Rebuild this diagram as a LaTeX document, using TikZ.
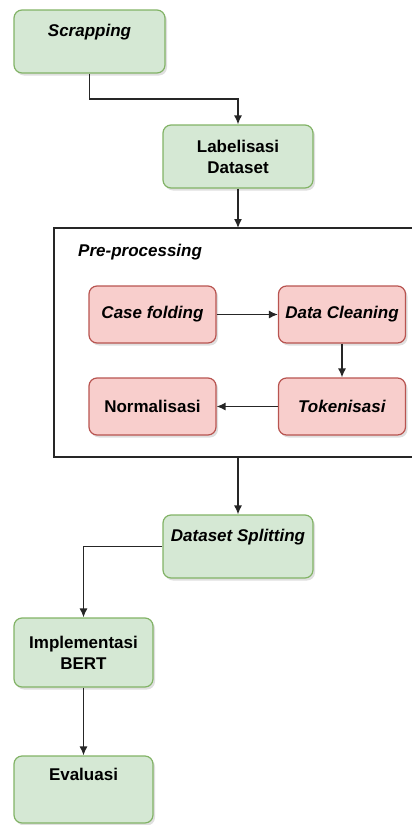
\documentclass[tikz,border=0pt]{standalone}
\usepackage{fontspec}
\setmainfont{Liberation Sans}
\usepackage{xcolor}
\usepackage{tikz}
\usetikzlibrary{positioning,shapes,shadows,arrows,arrows.meta}

\definecolor{greenfill}{HTML}{D5E8D4}
\definecolor{greenline}{HTML}{82B366}
\definecolor{redfill}{HTML}{F8CECC}
\definecolor{redline}{HTML}{B85450}

\begin{document}
\begin{tikzpicture}[x=1pt, y=-1pt,
    every node/.style={font=\fontsize{17}{21}\selectfont\bfseries, align=center, inner sep=0pt},
    greenbox/.style={draw=greenline, fill=greenfill, line width=1.2pt, rounded corners=8pt,
        drop shadow={shadow xshift=2pt, shadow yshift=-2.5pt, opacity=0.25}},
    redbox/.style={draw=redline, fill=redfill, line width=1.2pt, rounded corners=8pt,
        minimum width=127pt, minimum height=57pt,
        drop shadow={shadow xshift=2pt, shadow yshift=-2.5pt, opacity=0.25}},
    flow/.style={draw=black!85, line width=1.3pt, -{Latex[length=9pt,width=8pt]}}]
    \useasboundingbox (0,0) rectangle (412,825);

    % main steps
    \node[greenbox, minimum width=151pt, minimum height=63pt] (scrap) at (89.5,41.5) {\textit{Scrapping}\\[2pt]~};
    \node[greenbox, minimum width=150pt, minimum height=63pt] (label) at (238,156.5) {Labelisasi\\Dataset};

    % pre-processing group
    \draw[draw=black!85, line width=1.3pt] (430,228) -- (54,228) -- (54,457) -- (430,457);
    \coordinate (pretop) at (238,228);
    \coordinate (prebot) at (238,457);
    \node[anchor=west] (pretitle) at (78,252) {\textit{Pre-processing}};
    \node[redbox] (fold) at (152.5,314.5) {\textit{Case folding}};
    \node[redbox] (clean) at (342,314.5) {\textit{Data Cleaning}};
    \node[redbox] (token) at (342,406.5) {\textit{Tokenisasi}};
    \node[redbox] (norm) at (152.5,406.5) {Normalisasi};

    \node[greenbox, minimum width=150pt, minimum height=63pt] (split) at (238,546.5) {\textit{Dataset Splitting}\\[2pt]~};
    \node[greenbox, minimum width=139pt, minimum height=69pt] (bert) at (83.5,652.5) {Implementasi\\BERT};
    \node[greenbox, minimum width=139pt, minimum height=67pt] (eval) at (83.5,789.5) {Evaluasi\\[9pt]~};

    % connectors
    \draw[flow] (scrap.south) |- (238,99) -- (label.north);
    \draw[flow] (label.south) -- (pretop);
    \draw[flow] (fold) -- (clean);
    \draw[flow] (clean) -- (token);
    \draw[flow] (token) -- (norm);
    \draw[flow] (prebot) -- (split.north);
    \draw[flow] (split.west) -| (bert.north);
    \draw[flow] (bert) -- (eval);
\end{tikzpicture}
\end{document}
